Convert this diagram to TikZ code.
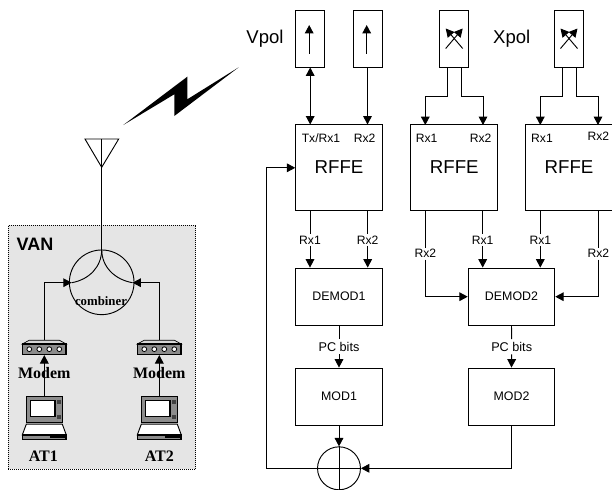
\documentclass[tikz,border=0pt]{standalone}
\usepackage{fontspec}
\setmainfont{Liberation Sans}
\newfontfamily\timesbf[BoldFont={Liberation Serif Bold}]{Liberation Serif}
\usetikzlibrary{arrows.meta}
\definecolor{vangray}{gray}{0.9}
\definecolor{kitgray}{gray}{0.55}
\tikzset{
    >={Triangle[length=6.3pt,width=6.5pt]},
    wire/.style={line width=0.7pt},
    antbox/.style={draw,line width=0.7pt,minimum width=21.75pt,minimum height=42.75pt,inner sep=0pt},
    rfbox/.style={draw,line width=0.7pt,minimum width=64.9pt,minimum height=64.3pt,inner sep=0pt,font=\fontsize{14}{14}\selectfont},
    blockbox/.style={draw,line width=0.7pt,minimum width=64.9pt,minimum height=43pt,inner sep=0pt,font=\fontsize{9.3}{10}\selectfont},
    portlabel/.style={inner sep=1pt,font=\fontsize{9.1}{10}\selectfont},
    pollabel/.style={inner sep=0pt,font=\fontsize{13.9}{14}\selectfont},
    kitlabel/.style={inner sep=0pt,font=\fontsize{12}{12}\timesbf\bfseries\selectfont},
    modembox/.style={minimum width=33pt,minimum height=11pt,inner sep=0pt},
    laptopbox/.style={minimum width=33.3pt,minimum height=32.5pt,inner sep=0pt},
    modemicon/.pic={
        \draw[line width=0.5pt,fill=kitgray!35] (-22,-3.5) -- (-15,-7.3) -- (15,-7.3) -- (22,-3.5) -- cycle;
        \draw[line width=0.9pt,fill=kitgray] (-21.7,-3.5) rectangle (21.7,7);
        \foreach \dotx in {-15,-5,5,15}
            \draw[line width=0.6pt,fill=white] (\dotx,1.7) circle (2.4);
    },
    laptopicon/.pic={
        \draw[line width=0.9pt,fill=kitgray] (-18,-21.4) rectangle (18,4.4);
        \draw[line width=0.9pt,fill=white] (-14,-17) rectangle (10.7,-1.5);
        \fill[black!75] (12.3,-18) rectangle (16.5,-14);
        \fill[black!75] (12.3,-3) rectangle (16.5,1);
        \draw[line width=0.7pt,fill=white] (-18,6.5) -- (18,6.5) -- (22,17.2) -- (-22,17.2) -- cycle;
        \draw[line width=0.9pt,fill=kitgray] (-21.7,17.2) rectangle (21.7,21.5);
        \fill[black] (6,18) rectangle (21,20.7);
    }
}
\begin{document}
\begin{tikzpicture}[x=0.75pt,y=-0.75pt]
    \useasboundingbox (0,0) rectangle (612,490);

    %% Van side
    \node[draw,densely dotted,fill=vangray,line width=0.5pt,minimum width=140.6pt,minimum height=183pt,inner sep=0pt] (van) at (102,347) {};
    \node[inner sep=0pt,font=\fontsize{13.5}{14}\selectfont\bfseries] (vanlabel) at (35,244) {VAN};

    \coordinate (anttop) at (101.7,139);
    \draw[wire] (85,139) -- (118.7,139) -- (101.7,167.3) -- cycle;
    \node[draw,circle,line width=0.7pt,minimum size=48.5pt,inner sep=0pt] (comb) at (101.7,282.3) {};
    \draw[wire] (anttop) -- (comb.north);

    \coordinate (combleft) at (71.7,282.7);
    \coordinate (combright) at (132.5,282.7);
    \draw[wire] (comb.north) to[out=-90,in=10] (combleft);
    \draw[wire] (comb.north) to[out=-90,in=170] (combright);
    \node[inner sep=0pt,font=\fontsize{9.6}{10}\timesbf\bfseries\selectfont] (combtext) at (101,301) {combiner};

    \node[modembox] (modem1) at (44.3,347.5) {};
    \node[modembox] (modem2) at (159.3,347.5) {};
    \pic at (modem1) {modemicon};
    \pic at (modem2) {modemicon};
    \node[laptopbox] (laptop1) at (44.3,417.7) {};
    \node[laptopbox] (laptop2) at (159.3,417.7) {};
    \pic at (laptop1) {laptopicon};
    \pic at (laptop2) {laptopicon};

    \draw[wire,->] (laptop1.north) -- (modem1.south);
    \draw[wire,->] (laptop2.north) -- (modem2.south);
    \draw[wire,->] (44.3,340) |- (combleft);
    \draw[wire,->] (159.3,340) |- (combright);

    \node[kitlabel] (modemtext1) at (44.3,372.7) {Modem};
    \node[kitlabel] (modemtext2) at (159.3,372.7) {Modem};
    \node[kitlabel] (attext1) at (43.3,456) {AT1};
    \node[kitlabel] (attext2) at (159.3,456) {AT2};

    %% Lightning
    \fill (123.3,125) -- (187.3,76.7) -- (187.3,99.3) -- (238.7,67.3) -- (174.3,116) -- (174.3,94.3) -- cycle;

    %% Antennas
    \node[antbox] (vpol1) at (310.2,38.5) {};
    \node[antbox] (vpol2) at (367.5,38.5) {};
    \node[antbox] (xpol1) at (454.2,38.5) {};
    \node[antbox] (xpol2) at (569,38.5) {};
    \node[pollabel] (vpoltext) at (265,39) {Vpol};
    \node[pollabel] (xpoltext) at (511.7,39) {Xpol};

    \draw[wire,->] (vpol1.center) ++(-1,15) -- ++(0,-28.5);
    \draw[wire,->] (vpol2.center) ++(-0.8,15) -- ++(0,-28.5);
    \foreach \antname in {xpol1,xpol2} {
        \draw[wire,->] (\antname.center) ++(-8.5,10) -- ++(17,-20);
        \draw[wire,->] (\antname.center) ++(8.5,10) -- ++(-17,-20);
    }

    %% Front ends
    \node[rfbox] (rffe1) at (339,167.8) {};
    \node[rfbox] (rffe2) at (454,167.8) {};
    \node[rfbox] (rffe3) at (568.7,167.8) {};
    \node[font=\fontsize{14}{14}\selectfont,inner sep=0pt] (rfname1) at (339,166.7) {RFFE};
    \node[font=\fontsize{14}{14}\selectfont,inner sep=0pt] (rfname2) at (454.3,166.7) {RFFE};
    \node[font=\fontsize{14}{14}\selectfont,inner sep=0pt] (rfname3) at (569,166.7) {RFFE};

    \node[portlabel] (port11) at (321,138.3) {Tx/Rx1};
    \node[portlabel] (port12) at (364.7,138.3) {Rx2};
    \node[portlabel] (port21) at (426.7,138.7) {Rx1};
    \node[portlabel] (port22) at (480.7,138.7) {Rx2};
    \node[portlabel] (port31) at (542,138.7) {Rx1};
    \node[portlabel] (port32) at (598.3,136) {Rx2};

    \draw[wire,<->] (vpol1.south) -- (vpol1.south |- rffe1.north);
    \draw[wire,->] (vpol2.south) -- (vpol2.south |- rffe1.north);
    \draw[wire,->] (447,67) -- (447,96) -| (425.3,125);
    \draw[wire,->] (461.3,67) -- (461.3,96) -| (483,125);
    \draw[wire,->] (562,67) -- (562,96) -| (540.3,125);
    \draw[wire,->] (576.3,67) -- (576.3,96) -| (598,125);

    %% Demodulators and modulators
    \node[blockbox] (demod1) at (339,296.7) {DEMOD1};
    \node[blockbox] (demod2) at (511.5,296.7) {DEMOD2};
    \node[blockbox] (mod1) at (339,396.7) {MOD1};
    \node[blockbox] (mod2) at (511.5,396.7) {MOD2};
    \node[draw,circle,line width=0.7pt,minimum size=32.2pt,inner sep=0pt] (sum) at (339,468.3) {};

    \node[portlabel] (out11) at (310,240) {Rx1};
    \node[portlabel] (out12) at (367.7,240) {Rx2};
    \node[portlabel] (out21) at (425.3,253.7) {Rx2};
    \node[portlabel] (out22) at (482.7,240) {Rx1};
    \node[portlabel] (out31) at (540.3,240) {Rx1};
    \node[portlabel] (out32) at (598.3,253.7) {Rx2};

    \foreach \outname/\rfname/\demodname in {out11/rffe1/demod1,out12/rffe1/demod1,out22/rffe2/demod2,out31/rffe3/demod2} {
        \draw[wire] (\outname |- \rfname.south) -- (\outname.north);
        \draw[wire,->] (\outname.south) -- (\outname |- \demodname.north);
    }
    \draw[wire] (out21 |- rffe2.south) -- (out21.north);
    \draw[wire,->] (out21.south) |- (demod2.west);
    \draw[wire] (out32 |- rffe3.south) -- (out32.north);
    \draw[wire,->] (out32.south) |- (demod2.east);

    \node[portlabel,inner sep=2pt,font=\fontsize{9.5}{10}\selectfont] (bits1) at (339,346.7) {PC bits};
    \node[portlabel,inner sep=2pt,font=\fontsize{9.5}{10}\selectfont] (bits2) at (511.7,346.7) {PC bits};
    \draw[wire] (demod1.south) -- (bits1.north);
    \draw[wire,->] (bits1.south) -- (mod1.north);
    \draw[wire] (demod2.south) -- (bits2.north);
    \draw[wire,->] (bits2.south) -- (mod2.north);

    %% Sum and feedback
    \draw[wire] (sum.north) -- (sum.south);
    \draw[wire] (sum.west) -- (sum.east);
    \draw[wire,->] (mod1.south) -- (sum.north);
    \draw[wire,->] (mod2.south) |- (sum.east);
    \draw[wire,->] (sum.west) -- ++(-50.5,0) |- (rffe1.west);
\end{tikzpicture}
\end{document}
